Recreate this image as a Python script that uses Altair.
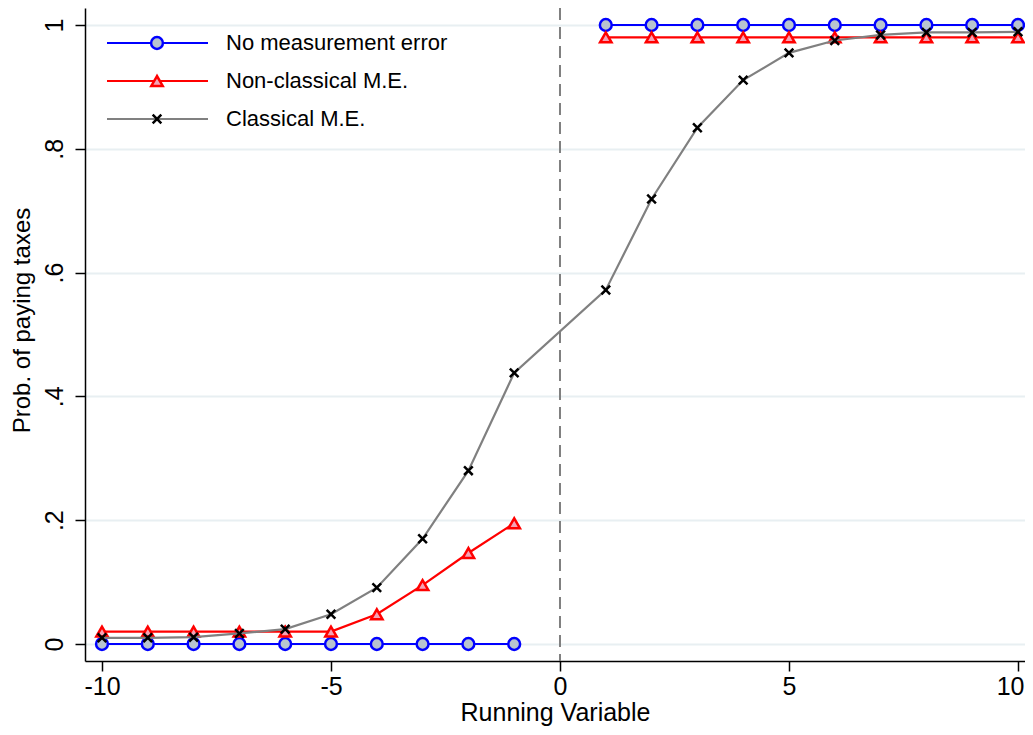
import altair as alt
import pandas as pd

# ---- data ----
x_left = [-10, -9, -8, -7, -6, -5, -4, -3, -2, -1]
x_right = [1, 2, 3, 4, 5, 6, 7, 8, 9, 10]

no_me_left = [0, 0, 0, 0, 0, 0, 0, 0, 0, 0]
no_me_right = [1, 1, 1, 1, 1, 1, 1, 1, 1, 1]

nonclass_left = [0.02, 0.02, 0.02, 0.02, 0.02, 0.02, 0.048, 0.095, 0.147, 0.195]
nonclass_right = [0.98, 0.98, 0.98, 0.98, 0.98, 0.98, 0.98, 0.98, 0.98, 0.98]

class_left = [0.010, 0.010, 0.011, 0.017, 0.024, 0.048, 0.091, 0.170, 0.280, 0.438]
class_right = [0.572, 0.719, 0.834, 0.911, 0.955, 0.975, 0.984, 0.988, 0.988, 0.989]

legend_labels = ["No measurement error", "Non-classical M.E.", "Classical M.E."]
cutoff = [0]

x_ticks = [-10, -5, 0, 5, 10]
y_ticks = [0, 0.2, 0.4, 0.6, 0.8, 1]

FONT = "Liberation Sans"


def frame(xl, yl, xr, yr):
    return pd.DataFrame({
        "x": xl + xr,
        "y": yl + yr,
        "seg": ["L"] * len(xl) + ["R"] * len(xr),
    })


df_blue = frame(x_left, no_me_left, x_right, no_me_right)
df_red = frame(x_left, nonclass_left, x_right, nonclass_right)
df_gray = pd.DataFrame({"x": x_left + x_right, "y": class_left + class_right})
df_cut = pd.DataFrame({"x": cutoff})

xscale = alt.Scale(domain=[-10.371, 10.153], nice=False, zero=False)
yscale = alt.Scale(domain=[-0.0275, 1.0275], nice=False, zero=False)

X = alt.X(
    "x:Q",
    scale=xscale,
    axis=alt.Axis(
        values=x_ticks,
        grid=False,
        tickSize=10,
        tickWidth=1.5,
        tickColor="black",
        domainColor="black",
        domainWidth=1.5,
        labelFont=FONT,
        labelFontSize=25,
        labelColor="black",
        labelPadding=3,
        labelFlush=10,
        labelFlushOffset=6,
        labelExpr="'' + datum.value",
        title="Running Variable",
        titleFont=FONT,
        titleFontSize=25,
        titleFontWeight="normal",
        titleColor="black",
        titleBaseline="alphabetic",
        titleY=59,
    ),
)
Y = alt.Y(
    "y:Q",
    scale=yscale,
    axis=alt.Axis(
        values=y_ticks,
        grid=True,
        gridColor="#e8eff2",
        gridWidth=2,
        tickSize=10,
        tickWidth=1.5,
        tickColor="black",
        domainColor="black",
        domainWidth=1.5,
        labelFont=FONT,
        labelFontSize=25,
        labelColor="black",
        labelAngle=270,
        labelAlign="center",
        labelBaseline="alphabetic",
        labelPadding=13,
        labelExpr="datum.value < 0.01 ? '0' : (datum.value > 0.99 ? '1' : '.' + round(datum.value * 10))",
        title="Prob. of paying taxes",
        titleFont=FONT,
        titleFontSize=24,
        titleFontWeight="normal",
        titleColor="black",
        titleAngle=270,
        titleAlign="center",
        titleBaseline="middle",
        titleX=-63,
        titleY=312,
    ),
)

BLUE = "#0000ff"
RED = "#ff0000"
GRAY = "#808080"
CIRCLE_FILL = "#b8c4cf"
TRI_FILL = "#f4a3b6"
XPATH = "M-1,-1L1,1M-1,1L1,-1"

cut = alt.Chart(df_cut).mark_rule(color=GRAY, strokeWidth=2, strokeDash=[12, 7]).encode(x=X)

blue_line = alt.Chart(df_blue).mark_line(color=BLUE, strokeWidth=2.2).encode(x=X, y=Y, detail="seg:N")
blue_pts = alt.Chart(df_blue).mark_point(
    shape="circle", filled=True, color=CIRCLE_FILL, stroke=BLUE, strokeWidth=2.5,
    size=140, opacity=1, fillOpacity=1
).encode(x=X, y=Y)

red_line = alt.Chart(df_red).mark_line(color=RED, strokeWidth=2.2).encode(x=X, y=Y, detail="seg:N")
red_pts = alt.Chart(df_red).mark_point(
    shape="triangle-up", filled=True, color=TRI_FILL, stroke=RED, strokeWidth=2.5,
    size=130, opacity=1, fillOpacity=1
).encode(x=X, y=Y)

gray_line = alt.Chart(df_gray).mark_line(color=GRAY, strokeWidth=2.2).encode(x=X, y=Y)
gray_pts = alt.Chart(df_gray).mark_point(
    shape=XPATH, filled=False, stroke="black", strokeWidth=2.5, size=75, opacity=1
).encode(x=X, y=Y)

# ---- manual legend (line + marker + label) ----
one = pd.DataFrame({"k": [0]})
legend_layers = []
row_y = [35, 73, 111]
styles = [
    dict(line=BLUE, shape="circle", filled=True, fill=CIRCLE_FILL, stroke=BLUE, size=140),
    dict(line=RED, shape="triangle-up", filled=True, fill=TRI_FILL, stroke=RED, size=130),
    dict(line=GRAY, shape=XPATH, filled=False, fill=None, stroke="black", size=75),
]
for lab, yy, st in zip(legend_labels, row_y, styles):
    legend_layers.append(
        alt.Chart(one).mark_rule(color=st["line"], strokeWidth=2.2).encode(
            x=alt.value(22), x2=alt.value(123), y=alt.value(yy)
        )
    )
    pkw = dict(shape=st["shape"], stroke=st["stroke"], strokeWidth=2.5, size=st["size"], opacity=1)
    if st["filled"]:
        pkw.update(filled=True, color=st["fill"], fillOpacity=1)
    else:
        pkw.update(filled=False)
    legend_layers.append(
        alt.Chart(one).mark_point(**pkw).encode(x=alt.value(72), y=alt.value(yy))
    )
    legend_layers.append(
        alt.Chart(one).mark_text(
            text=lab, align="left", baseline="middle", font=FONT, fontSize=22, color="black"
        ).encode(x=alt.value(141), y=alt.value(yy))
    )

chart = alt.layer(
    cut, blue_line, blue_pts, red_line, red_pts, gray_line, gray_pts, *legend_layers
).properties(
    width=940,
    height=653,
    autosize=alt.AutoSizeParams(type="none"),
    padding={"left": 77, "top": 0, "right": 0, "bottom": 66},
    background="white",
).configure_view(stroke=None)

chart.save("out.html", embed_options={"renderer": "svg", "actions": False})
